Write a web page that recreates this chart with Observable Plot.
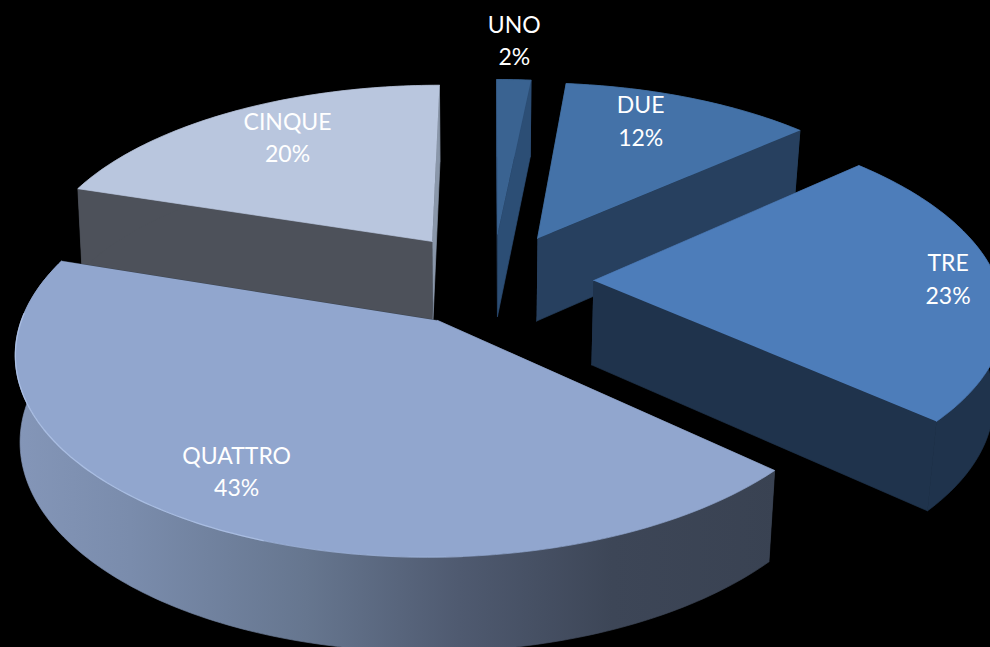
<!DOCTYPE html>
<html>
<head>
<meta charset="utf-8">
<script src="https://cdn.jsdelivr.net/npm/d3@7"></script>
<script src="https://cdn.jsdelivr.net/npm/@observablehq/plot@0.6"></script>
<style>
html,body{margin:0;padding:0;background:#000;overflow:hidden}
svg{display:block}
</style>
</head>
<body>
<script>
const categories = ["UNO", "DUE", "TRE", "QUATTRO", "CINQUE"];
const shares = [1.6, 11.8, 23.3, 43.3, 20.0];

// Styling per slice
const topColors  = ["#3a6391", "#4472a8", "#4d7dba", "#91a6ce", "#b9c6de"];
const wallColors = ["#2c4e75", "#27405f", "#1f334c", "url(#quattroWall)", "#4d515a"];
const endColors  = ["#2c4e75", "#27405f", "#1f334c", "#3a4352", "#8a97aa"];

// Exploded offset of each slice on the pie's plane (unit radius)
const pullU = [0.018, 0.119, 0.252, -0.126, -0.147];
const pullV = [0.228, 0.203, -0.027, -0.231, 0.186];

// Label placement, in pie radii and degrees off the slice's mid-angle
const labelRadius = [1.30, 0.79, 0.88, 0.795, 0.76];
const labelTurn   = [-0.5, -4.4, -0.8, 1.9, 2.8];

// Order in which the solids are painted, back to front
const paintOrder = [0, 1, 4, 2, 3];

// Perspective of the pie's plane
const view = {cx: 490, cy: 275, bx: 407, by: 188, d: 0.145, widthFactor: 0.988, depth: 84, depthSlope: 7, shrinkLeft: 0.99, shrinkRight: 0.98};

function project(u, v, lower) {
  const w = 1 + view.d * v;
  const g = v / w;
  const x = view.cx + view.bx * u / w;
  const y = view.cy - view.by * g;
  if (!lower) return {x, y};
  const shrink = x < view.cx ? view.shrinkLeft : view.shrinkRight;
  return {x: view.cx + (x - view.cx) * shrink, y: y + view.depth - view.depthSlope * g};
}

const total = d3.sum(shares);
let running = 0;
const slices = categories.map((name, i) => {
  const a0 = running / total * 360;
  running += shares[i];
  const a1 = running / total * 360;
  return {name, i, a0, a1, share: Math.round(shares[i])};
});

function onRim(s, deg, lower, r = 1) {
  const t = deg * Math.PI / 180;
  return project(pullU[s.i] + r * view.widthFactor * Math.sin(t), pullV[s.i] + r * Math.cos(t), lower);
}
function arc(s, lower) {
  const n = Math.max(2, Math.ceil(s.a1 - s.a0));
  return d3.range(n + 1).map(k => onRim(s, s.a0 + (s.a1 - s.a0) * k / n, lower));
}
const apex = (s, lower) => project(pullU[s.i], pullV[s.i], lower);

function sliceMarks(s) {
  const top = arc(s, false), low = arc(s, true);
  const face = (pts, fill) => Plot.line(pts, {x: "x", y: "y", fill, stroke: fill, strokeWidth: 0.7});
  const endWall = deg => [apex(s, false), onRim(s, deg, false), onRim(s, deg, true), apex(s, true)];
  return [
    face(endWall(s.a0), wallColors[s.i]),
    face([...top, ...low.slice().reverse()], wallColors[s.i]),
    face(endWall(s.a1), endColors[s.i]),
    face([apex(s, false), ...top], topColors[s.i])
  ];
}

const labels = slices.map(s => {
  const p = onRim(s, (s.a0 + s.a1) / 2 + labelTurn[s.i], false, labelRadius[s.i]);
  return {x: p.x, y: p.y, text: `${s.name}\n${s.share}%`};
});

const gradient = () => {
  const defs = d3.create("svg:defs");
  const lg = defs.append("linearGradient")
    .attr("id", "quattroWall").attr("gradientUnits", "userSpaceOnUse")
    .attr("x1", 15).attr("x2", 780).attr("y1", 0).attr("y2", 0);
  [[0, "#8496b8"], [0.15, "#7a8cac"], [0.38, "#66768f"], [0.58, "#4f5a70"], [0.78, "#3d4657"], [1, "#394252"]]
    .forEach(([o, c]) => lg.append("stop").attr("offset", o).attr("stop-color", c));
  return defs.node();
};

// Light bevel on the front edge of the biggest slice
const q = slices[3];
const bevelMain = d3.range(200, 273).map(deg => onRim(q, deg, false));
const bevelFade = d3.range(176, 201).map(deg => onRim(q, deg, false));

const chart = Plot.plot({
  width: 990,
  height: 647,
  margin: 0,
  style: {background: "#000"},
  x: {domain: [0, 990], range: [0, 990], axis: null},
  y: {domain: [0, 647], range: [0, 647], axis: null},
  marks: [
    gradient,
    ...paintOrder.flatMap(i => sliceMarks(slices[i])),
    Plot.line(bevelMain, {x: "x", y: "y", stroke: "#b4c8ec", strokeWidth: 1.3, strokeOpacity: 0.75}),
    Plot.line(bevelFade, {x: "x", y: "y", stroke: "#b4c8ec", strokeWidth: 1.2, strokeOpacity: 0.3}),
    Plot.text(labels, {
      x: "x", y: "y", text: "text",
      dy: -2,
      fill: "#fff",
      fontFamily: "Lato, 'Open Sans', sans-serif",
      fontSize: 23,
      lineHeight: 1.43,
      lineAnchor: "middle",
      textAnchor: "middle"
    })
  ]
});
document.body.appendChild(chart);
</script>
</body>
</html>
